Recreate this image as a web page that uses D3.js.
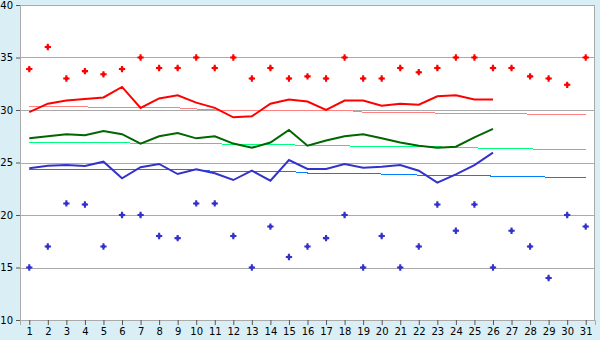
<!DOCTYPE html>
<html>
<head>
<meta charset="utf-8">
<script src="https://cdn.jsdelivr.net/npm/d3@7"></script>
<style>
  body { margin: 0; background: #daeff5; }
  svg { display: block; }
  .tick text { font-family: "DejaVu Sans", Verdana, sans-serif; font-size: 10px; fill: #000; }
</style>
</head>
<body>
<div id="graphWrapper"></div>
<script>
// days of the month
var days = [1,2,3,4,5,6,7,8,9,10,11,12,13,14,15,16,17,18,19,20,21,22,23,24,25,26,27,28,29,30,31];
var yTicks = [10,15,20,25,30,35,40];

// daily maximum / minimum (markers)
var dailyMax = [33.9,36.0,33.0,33.7,33.4,33.9,35.0,34.0,34.0,35.0,34.0,35.0,33.0,34.0,33.0,33.2,33.0,35.0,33.0,33.0,34.0,33.6,34.0,35.0,35.0,34.0,34.0,33.2,33.0,32.4,35.0];
var dailyMin = [15.0,17.0,21.1,21.0,17.0,20.0,20.0,18.0,17.8,21.1,21.1,18.0,15.0,18.9,16.0,17.0,17.8,20.0,15.0,18.0,15.0,17.0,21.0,18.5,21.0,15.0,18.5,17.0,14.0,20.0,18.9];

// running averages (thick lines, up to day 26)
var avgMax  = [29.8,30.6,30.9,31.05,31.2,32.2,30.2,31.1,31.4,30.7,30.2,29.3,29.4,30.6,31.0,30.8,30.0,30.9,30.9,30.4,30.6,30.5,31.3,31.4,31.0,31.0];
var avgMean = [27.3,27.5,27.7,27.6,28.0,27.7,26.8,27.5,27.8,27.3,27.5,26.8,26.4,26.9,28.1,26.6,27.1,27.5,27.7,27.3,26.9,26.6,26.4,26.5,27.4,28.2];
var avgMin  = [24.45,24.7,24.76,24.67,25.08,23.5,24.55,24.86,23.9,24.35,23.97,23.33,24.22,23.27,25.24,24.38,24.38,24.86,24.5,24.6,24.76,24.22,23.08,23.87,24.76,25.94];

// normals (thin lines)
var normalMax  = [30.3,30.3,30.3,30.3,30.2,30.2,30.2,30.2,30.2,30.1,30.0,30.0,30.0,30.0,30.0,30.0,30.0,30.0,29.8,29.8,29.8,29.8,29.7,29.7,29.7,29.7,29.7,29.6,29.6,29.6,29.6];
var normalMean = [26.9,26.9,26.9,26.9,26.9,26.9,26.8,26.8,26.8,26.8,26.8,26.7,26.7,26.7,26.7,26.6,26.6,26.6,26.5,26.5,26.5,26.5,26.5,26.4,26.4,26.3,26.3,26.3,26.2,26.2,26.2];
var normalMin  = [24.3,24.3,24.3,24.3,24.3,24.3,24.3,24.3,24.3,24.3,24.15,24.15,24.15,24.15,24.15,24.0,24.0,24.0,24.0,23.9,23.9,23.8,23.8,23.8,23.8,23.7,23.7,23.7,23.6,23.6,23.6];

var w = 600, h = 340;
var margin = { top: 5, right: 5, bottom: 20, left: 20 };
var width = w - margin.left - margin.right;
var height = h - margin.top - margin.bottom;

var svg = d3.select("#graphWrapper").append("svg")
    .attr("width", w)
    .attr("height", h);

var chart = svg.append("g")
    .attr("transform", "translate(" + margin.left + "," + margin.top + ")");

var x = d3.scalePoint()
    .domain(days)
    .range([0, width])
    .padding(0.5);
var y = d3.scaleLinear()
    .domain([10, 40])
    .range([height, 0]);

// plot background
chart.append("rect")
    .attr("width", width)
    .attr("height", height)
    .attr("fill", "#fff");

// grid
chart.selectAll(".grid")
    .data(yTicks)
    .enter().append("line")
    .attr("x1", 0).attr("x2", width)
    .attr("y1", function(d){ return Math.round(y(d)) + 0.5; })
    .attr("y2", function(d){ return Math.round(y(d)) + 0.5; })
    .attr("stroke", "#aaa");
chart.append("line")
    .attr("x1", width - 0.5).attr("x2", width - 0.5)
    .attr("y1", 0).attr("y2", height)
    .attr("stroke", "#aaa");

// axes
var yAxis = d3.axisLeft(y).tickValues(yTicks).tickSize(4).tickPadding(3);
var xAxis = d3.axisBottom(x).tickSize(5).tickPadding(3);

var gy = chart.append("g").call(yAxis);
var gx = chart.append("g").attr("transform", "translate(0," + height + ")").call(xAxis);
[gy, gx].forEach(function(g){
    g.select(".domain").attr("stroke", "#aaa");
    g.selectAll(".tick line").attr("stroke", "#555");
});

function lineFor(vals){
    return d3.line()
        .x(function(d, i){ return x(days[i]); })
        .y(function(d){ return y(d); })(vals);
}

// normals
[[normalMax, "#ff8080"], [normalMean, "#00ff80"], [normalMin, "#0080ff"]].forEach(function(s){
    chart.append("path")
        .attr("d", lineFor(s[0]))
        .attr("fill", "none")
        .attr("stroke", s[1])
        .attr("stroke-width", 1)
        .style("shape-rendering", "crispEdges");
});

// averages
[[avgMax, "#ff0000"], [avgMean, "#006600"], [avgMin, "#3333cc"]].forEach(function(s){
    chart.append("path")
        .attr("d", lineFor(s[0]))
        .attr("fill", "none")
        .attr("stroke", s[1])
        .attr("stroke-width", 2);
});

// daily markers (plus with a fat centre)
var cross = d3.symbol().type(d3.symbolCross).size(22);
var dot = d3.symbol().type(d3.symbolSquare).size(9);
[[dailyMax, "#ff0000"], [dailyMin, "#3333cc"]].forEach(function(s){
    var m = chart.selectAll(null)
        .data(s[0])
        .enter().append("g")
        .attr("transform", function(d, i){ return "translate(" + x(days[i]) + "," + y(d) + ")"; })
        .attr("fill", s[1]);
    m.append("path").attr("d", cross);
    m.append("path").attr("d", dot);
});
</script>
</body>
</html>
